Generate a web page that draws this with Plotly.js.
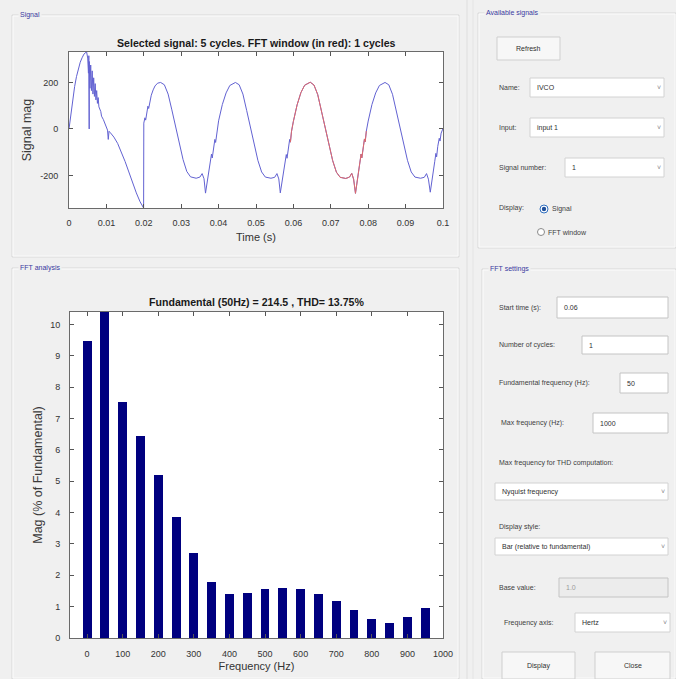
<!DOCTYPE html>
<html>
<head>
<meta charset="utf-8">
<script src="https://cdn.plot.ly/plotly-3.0.1.min.js"></script>
<style>
html,body{margin:0;padding:0;background:#f0f0f0;}
#chart{width:676px;height:679px;}
</style>
</head>
<body>
<div id="chart"></div>
<script>
// ---------------- DATA ----------------
const fftFreqHz = [0,50,100,150,200,250,300,350,400,450,500,550,600,650,700,750,800,850,900,950];
const fftMagPct = [9.47,100,7.52,6.46,5.20,3.87,2.70,1.79,1.39,1.44,1.55,1.59,1.55,1.39,1.18,0.88,0.60,0.47,0.66,0.97];
const fftXTicks = [0,100,200,300,400,500,600,700,800,900,1000];
const fftYTicks = [0,1,2,3,4,5,6,7,8,9,10];

const sigXTicks = [0,0.01,0.02,0.03,0.04,0.05,0.06,0.07,0.08,0.09,0.1];
const sigXTickText = ['0','0.01','0.02','0.03','0.04','0.05','0.06','0.07','0.08','0.09','0.1'];
const sigYTicks = [-200,0,200];
const sigYTickText = ['-200','0','200'];

// first cycle (start-up transient)
const startupTime = [0,0.0005,0.001,0.0015,0.002,0.0025,0.003,0.0035,0.004,0.0047,0.0050,0.0052,0.0053,0.0054,0.00542,0.0056,0.0058,0.0060,0.0062,0.0064,0.0066,0.0068,0.0070,0.0072,0.0074,0.0076,0.0078,0.0080,0.0085,0.0087,0.0092,0.0098,0.0103,0.0105,0.0107,0.0110,0.0120,0.0130,0.0140,0.0150,0.0160,0.0170,0.0180,0.0190,0.01995];
const startupMag  = [0,68,130,182,225,260,287,306,322,332,305,240,315,0,290,175,275,165,250,150,220,140,195,125,165,110,135,95,75,55,40,15,-5,-45,-10,-15,-35,-62,-100,-140,-185,-232,-275,-313,-340];

// cycles 2..5
const steadyTime = [
 0.0200,0.0203,0.0205,0.0208,0.0211,0.0213,0.0216,0.0220,0.0225,0.0230,0.0237,0.0245,0.0255,0.0265,0.0275,0.0285,0.0295,0.0305,0.0315,0.0325,0.0340,0.0350,0.0356,0.0361,0.0365,0.0369,0.0373,0.0378,0.0381,0.0383,0.0386,0.0390,0.0392,0.0395,
 0.0400,0.0410,0.0420,0.0430,0.0445,0.0455,0.0465,0.0475,0.0485,0.0495,0.0505,0.0515,0.0525,0.0540,0.0550,0.0556,0.0561,0.0565,0.0569,0.0573,0.0578,0.0581,0.0583,0.0586,0.0590,0.0592,0.0595,
 0.0600,0.0610,0.0620,0.0630,0.0645,0.0655,0.0665,0.0675,0.0685,0.0695,0.0705,0.0715,0.0725,0.0740,0.0750,0.0756,0.0761,0.0766,0.0770,0.0774,0.0778,0.0781,0.0783,0.0786,0.0790,0.0792,0.0795,
 0.0800,0.0810,0.0820,0.0830,0.0845,0.0855,0.0865,0.0875,0.0885,0.0895,0.0905,0.0915,0.0925,0.0940,0.0950,0.0956,0.0961,0.0966,0.0970,0.0974,0.0978,0.0981,0.0983,0.0986,0.0990,0.0992,0.0995,0.1000];
const steadyMag = [
 25,48,38,72,98,88,122,145,168,185,197,200,190,150,82,12,-62,-132,-183,-206,-212,-207,-192,-214,-276,-236,-190,-140,-108,-125,-80,-45,-58,-12,
 35,105,155,187,200,190,150,80,10,-65,-135,-185,-207,-212,-208,-192,-215,-275,-235,-190,-140,-110,-126,-80,-45,-57,-10,
 33,104,156,188,201,189,148,78,8,-66,-136,-186,-208,-213,-207,-191,-216,-277,-234,-188,-138,-108,-124,-78,-43,-55,-9,
 34,105,155,187,200,190,149,79,9,-65,-135,-185,-207,-212,-208,-192,-216,-272,-233,-189,-139,-105,-120,-75,-40,-52,-18,2];

const fftWindow = [0.0592, 0.0796];   // FFT window shown in red

// ---------------- LAYOUT HELPERS ----------------
const W = 676, H = 679;
const FONT = 'Liberation Sans, Arial, sans-serif';
const px = x => x / W;
const py = y => 1 - y / H;

const shapes = [];
const annotations = [];

function rect(x0, y0, x1, y1, fill, line, lw) {
  shapes.push({type:'rect', xref:'paper', yref:'paper', x0:px(x0), x1:px(x1), y0:py(y1), y1:py(y0),
    fillcolor: fill || 'rgba(0,0,0,0)', line:{color: line || 'rgba(0,0,0,0)', width: lw === undefined ? 1 : lw}, layer:'below'});
}
function vline(x, y0, y1, color) {
  shapes.push({type:'line', xref:'paper', yref:'paper', x0:px(x), x1:px(x), y0:py(y0), y1:py(y1), line:{color:color, width:1}, layer:'below'});
}
function label(text, x, y, opts) {
  opts = opts || {};
  annotations.push(Object.assign({text:text, xref:'paper', yref:'paper', x:px(x), y:py(y),
    xanchor:'left', yanchor:'middle', showarrow:false,
    font:{family:FONT, size:7, color:'#404040'}}, opts));
}
function panel(x0, y0, x1, y1, title) {
  rect(x0, y0, x1, y1, null, '#d9d9d9', 1);
  rect(x0+1, y0+1, x1-1, y1-1, null, '#fbfbfb', 1);
  label(title, x0 + 6, y0, {font:{family:FONT, size:7, color:'#3a3aa0'}, bgcolor:'#f0f0f0'});
}
function textbox(x0, y0, x1, y1, text, disabled) {
  rect(x0, y0, x1, y1, disabled ? '#ececec' : '#ffffff', '#c4c4c4', 1);
  label(text, x0 + 5, (y0 + y1) / 2, {font:{family:FONT, size:7, color: disabled ? '#9a9a9a' : '#303030'}});
}
function dropdown(x0, y0, x1, y1, text) {
  rect(x0, y0, x1, y1, '#ffffff', '#d2d2d2', 1);
  label(text, x0 + 5, (y0 + y1) / 2, {font:{family:FONT, size:7, color:'#303030'}});
  label('\u02C5', x1 - 9, (y0 + y1) / 2, {font:{family:FONT, size:7, color:'#8a8a8a'}});
}
function button(x0, y0, x1, y1, text) {
  rect(x0, y0, x1, y1, '#f7f7f7', '#cfcfcf', 1);
  label(text, (x0 + x1) / 2, (y0 + y1) / 2, {xanchor:'center', font:{family:FONT, size:7, color:'#303030'}});
}
function radio(cx, cy, r, filled) {
  shapes.push({type:'circle', xref:'paper', yref:'paper', x0:px(cx-r), x1:px(cx+r), y0:py(cy+r), y1:py(cy-r),
    fillcolor:'#ffffff', line:{color: filled ? '#2f6fc0' : '#8a8a8a', width:1}, layer:'below'});
  if (filled) {
    shapes.push({type:'circle', xref:'paper', yref:'paper', x0:px(cx-r+1.8), x1:px(cx+r-1.8), y0:py(cy+r-1.8), y1:py(cy-r+1.8),
      fillcolor:'#1f4f9a', line:{color:'#1f4f9a', width:0}, layer:'below'});
  }
}

// ---------------- PANELS & CONTROLS ----------------
vline(467, 0, H, '#dedede');
vline(473, 0, H, '#e4e4e4');

panel(12, 15, 459, 257, 'Signal');
panel(12, 268, 459, 679, 'FFT analysis');
panel(478, 13, 676, 248, 'Available signals');
panel(482, 269, 676, 679, 'FFT settings');

// Available signals
button(497, 37, 560, 60, 'Refresh');
label('Name:', 497, 88);
dropdown(530, 78, 664, 97, 'IVCO');
label('Input:', 497, 128);
dropdown(530, 118, 664, 137, 'input 1');
label('Signal number:', 497, 168);
dropdown(565, 158, 664, 177, '1');
label('Display:', 497, 208);
radio(544, 209, 4, true);
label('Signal', 550, 209);
radio(541, 232, 3.5, false);
label('FFT window', 546, 232);

// FFT settings
label('Start time (s):', 497, 308);
textbox(557, 297, 668, 318, '0.06');
label('Number of cycles:', 497, 345);
textbox(582, 336, 668, 354, '1');
label('Fundamental frequency (Hz):', 497, 383);
textbox(620, 373, 668, 393, '50');
label('Max frequency (Hz):', 499, 423);
textbox(593, 413, 668, 433, '1000');
label('Max frequency for THD computation:', 497, 463);
dropdown(495, 483, 668, 500, 'Nyquist frequency');
label('Display style:', 497, 527);
dropdown(495, 538, 668, 555, 'Bar (relative to fundamental)');
label('Base value:', 497, 587);
textbox(559, 578, 668, 597, '1.0', true);
label('Frequency axis:', 502, 623);
dropdown(575, 613, 670, 632, 'Hertz');
button(502, 652, 575, 679, 'Display');
button(595, 652, 670, 679, 'Close');

// Plot titles
annotations.push({text:'<b>Selected signal: 5 cycles. FFT window (in red): 1 cycles</b>', xref:'paper', yref:'paper',
  x:px(256), y:py(43), xanchor:'center', yanchor:'middle', showarrow:false, font:{family:FONT, size:10.6, color:'#1a1a1a'}});
annotations.push({text:'<b>Fundamental (50Hz) = 214.5 , THD= 13.75%</b>', xref:'paper', yref:'paper',
  x:px(256), y:py(302), xanchor:'center', yanchor:'middle', showarrow:false, font:{family:FONT, size:10.6, color:'#1a1a1a'}});

// ---------------- TRACES ----------------
const sigTime = startupTime.concat(steadyTime);
const sigMag = startupMag.concat(steadyMag);
const redTime = [], redMag = [];
for (let i = 0; i < steadyTime.length; i++) {
  if (steadyTime[i] >= fftWindow[0] && steadyTime[i] <= fftWindow[1]) { redTime.push(steadyTime[i]); redMag.push(steadyMag[i]); }
}

const traces = [
  {type:'scatter', mode:'lines', x:sigTime, y:sigMag, xaxis:'x', yaxis:'y',
   line:{color:'#6262d2', width:1}, hoverinfo:'skip', showlegend:false},
  {type:'scatter', mode:'lines', x:redTime, y:redMag, xaxis:'x', yaxis:'y',
   line:{color:'#e26a6a', width:1}, hoverinfo:'skip', showlegend:false},
  {type:'bar', x:fftFreqHz, y:fftMagPct, width:25, xaxis:'x2', yaxis:'y2',
   marker:{color:'#00007f', line:{width:0}}, hoverinfo:'skip', showlegend:false}
];

const axCommon = {
  ticks:'inside', ticklen:4, tickcolor:'#555555', mirror:'allticks', showline:true, linecolor:'#6a6a6a', linewidth:1,
  showgrid:false, zeroline:false, fixedrange:true, automargin:false,
  tickfont:{family:FONT, size:9, color:'#333333'}
};

const layout = {
  width:W, height:H, margin:{l:0, r:0, t:0, b:0},
  paper_bgcolor:'#f0f0f0', plot_bgcolor:'#ffffff',
  showlegend:false, bargap:0,
  xaxis: Object.assign({}, axCommon, {domain:[px(69), px(443)], range:[0, 0.1], anchor:'y',
    tickvals:sigXTicks, ticktext:sigXTickText, ticklabelstandoff:6,
    title:{text:'Time (s)', standoff:6, font:{family:FONT, size:11, color:'#333333'}}}),
  yaxis: Object.assign({}, axCommon, {domain:[py(208), py(52)], range:[-340, 331], anchor:'x',
    tickvals:sigYTicks, ticktext:sigYTickText, ticklabelstandoff:8,
    title:{text:'Signal mag', standoff:5, font:{family:FONT, size:12.5, color:'#3a3a3a'}}}),
  xaxis2: Object.assign({}, axCommon, {domain:[px(70), px(443)], range:[-48, 1000], anchor:'y2',
    tickvals:fftXTicks, ticklabelstandoff:7,
    title:{text:'Frequency (Hz)', standoff:4, font:{family:FONT, size:11, color:'#333333'}}}),
  yaxis2: Object.assign({}, axCommon, {domain:[py(638), py(312)], range:[0, 10.4], anchor:'x2',
    tickvals:fftYTicks, ticklabelstandoff:7,
    title:{text:'Mag (% of Fundamental)', standoff:4, font:{family:FONT, size:12.5, color:'#3a3a3a'}}}),
  shapes: shapes,
  annotations: annotations
};

Plotly.newPlot('chart', traces, layout, {staticPlot:true, displayModeBar:false});
</script>
</body>
</html>
